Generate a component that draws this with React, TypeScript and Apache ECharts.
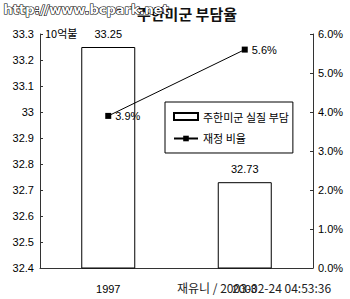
import React, { useEffect, useRef } from "react";
import * as echarts from "echarts";

const categories = ["1997", "2003"];
const burdenValues = [33.25, 32.73];
const ratioValues = [3.9, 5.6];
const leftMin = 32.4;
const leftMax = 33.3;
const rightMin = 0;
const rightMax = 6;

const FONT = "'Liberation Sans', 'Noto Sans CJK KR', sans-serif";
const KFONT = "'Noto Sans CJK KR', 'Liberation Sans', sans-serif";

export default function App() {
  const ref = useRef<HTMLDivElement>(null);
  useEffect(() => {
    document.body.style.margin = "0";
    const chart = echarts.init(ref.current!, null, { renderer: "svg" });
    chart.setOption({
      animation: false,
      backgroundColor: "#fff",
      textStyle: { fontFamily: FONT },
      grid: { left: 40, right: 37, top: 34, bottom: 31 },
      title: {
        text: "주한미군 부담율",
        left: 182,
        textAlign: "center",
        top: 1,
        textStyle: { fontFamily: KFONT, fontSize: 15, fontWeight: "bold", color: "#111" },
      },
      legend: {
        orient: "vertical",
        left: 165,
        top: 102,
        padding: [9, 4, 9, 8],
        itemGap: 11,
        itemWidth: 24,
        itemHeight: 7,
        borderColor: "#000",
        borderWidth: 1,
        backgroundColor: "#fff",
        textStyle: { fontFamily: KFONT, fontSize: 11, color: "#000" },
        data: [
          { name: "주한미군 실질 부담", icon: "rect" },
          { name: "재정 비율" },
        ],
      },
      xAxis: {
        type: "category",
        data: categories,
        boundaryGap: true,
        axisLine: { lineStyle: { color: "#333", width: 1 } },
        axisTick: { inside: true, length: 4, lineStyle: { color: "#333" } },
        axisLabel: { color: "#000", fontSize: 11, margin: 15, fontFamily: FONT },
      },
      yAxis: [
        {
          type: "value",
          min: leftMin,
          max: leftMax,
          interval: 0.1,
          splitLine: { show: false },
          axisLine: { show: true, lineStyle: { color: "#333" } },
          axisTick: { show: true, inside: true, length: 3, lineStyle: { color: "#333" } },
          axisLabel: {
            color: "#000",
            fontSize: 11,
            margin: 6,
            formatter: (v: number) => String(parseFloat(v.toFixed(1))),
          },
        },
        {
          type: "value",
          min: rightMin,
          max: rightMax,
          interval: 1,
          splitLine: { show: false },
          axisLine: { show: true, lineStyle: { color: "#333" } },
          axisTick: { show: true, inside: true, length: 3, lineStyle: { color: "#333" } },
          axisLabel: {
            color: "#000",
            fontSize: 11,
            margin: 5,
            formatter: (v: number) => v.toFixed(1) + "%",
          },
        },
      ],
      series: [
        {
          name: "주한미군 실질 부담",
          type: "bar",
          data: burdenValues,
          barWidth: 54,
          itemStyle: { color: "#fff", borderColor: "#000", borderWidth: 1 },
          label: {
            show: true,
            position: "top",
            distance: 8,
            color: "#000",
            fontSize: 11,
            fontFamily: FONT,
          },
        },
        {
          name: "재정 비율",
          type: "line",
          yAxisIndex: 1,
          data: ratioValues,
          symbol: "rect",
          symbolSize: 6,
          lineStyle: { color: "#000", width: 1 },
          itemStyle: { color: "#000" },
          label: {
            show: true,
            position: "right",
            distance: 4,
            color: "#000",
            fontSize: 11,
            fontFamily: FONT,
            formatter: (p: any) => p.value.toFixed(1) + "%",
          },
          z: 5,
        },
      ],
      graphic: [
        {
          type: "text",
          left: 45,
          top: 27,
          style: { text: "10억불", fontFamily: KFONT, fontSize: 11, fill: "#000" },
        },
        {
          type: "text",
          left: 3,
          top: 2,
          z: 100,
          style: {
            text: "http://www.bcpark.net",
            fontFamily: "'DejaVu Sans', sans-serif",
            fontSize: 13,
            fontWeight: "bold",
            fill: "#fff",
            stroke: "#000",
            lineWidth: 1.2,
          },
        },
        {
          type: "text",
          left: 177,
          top: 281,
          z: 100,
          style: {
            text: "재유니 / 2003-02-24 04:53:36",
            fontFamily: KFONT,
            fontSize: 12,
            fill: "#222",
          },
        },
      ],
    });
    return () => chart.dispose();
  }, []);
  return <div ref={ref} style={{ width: 350, height: 299 }} />;
}
